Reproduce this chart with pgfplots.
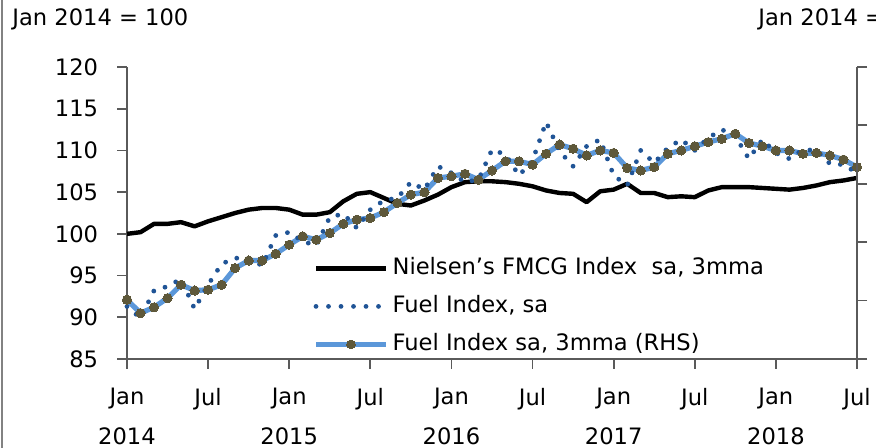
\documentclass[border=0pt]{standalone}
\usepackage{pgfplots}
\usepackage{pgfplotstable}
\pgfplotsset{compat=1.18}
\usepackage{fontspec}
\setmainfont{DejaVu Sans}
\definecolor{axgray}{RGB}{90,90,90}
\definecolor{fuelblue}{RGB}{91,151,217}
\definecolor{dotblue}{RGB}{32,84,150}
\definecolor{mkolive}{RGB}{94,88,58}
\definecolor{bordergray}{RGB}{130,130,130}

\pgfplotstableread{
m nielsen raw mma
0 100.0 91.3 92.1
1 100.2 89.9 90.5
2 101.2 93.2 91.2
3 101.2 93.7 92.3
4 101.4 94.6 93.9
5 100.9 91.0 93.2
6 101.5 93.9 93.3
7 102.0 96.4 93.9
8 102.5 97.1 95.9
9 102.9 97.0 96.8
10 103.1 96.2 96.8
11 103.1 99.8 97.6
12 102.9 100.2 98.7
13 102.3 99.1 99.7
14 102.3 98.6 99.3
15 102.6 102.0 100.1
16 103.9 102.4 101.2
17 104.8 100.7 101.7
18 105.0 102.9 101.9
19 104.3 104.0 102.6
20 103.6 104.3 103.7
21 103.4 106.2 104.7
22 104.0 105.3 105.0
23 104.7 108.1 106.7
24 105.6 107.3 106.9
25 106.2 106.2 107.2
26 106.3 106.5 106.5
27 106.3 110.1 107.6
28 106.2 109.5 108.7
29 106.0 107.0 108.7
30 105.7 108.8 108.3
31 105.2 113.4 109.6
32 104.9 109.9 110.7
33 104.8 108.1 110.2
34 103.8 110.5 109.4
35 105.1 111.3 110.0
36 105.3 107.0 109.7
37 106.0 105.8 107.9
38 104.9 110.0 107.6
39 104.9 108.5 108.0
40 104.4 110.3 109.6
41 104.5 111.3 110.0
42 104.4 110.0 110.5
43 105.2 111.5 111.0
44 105.6 112.5 111.4
45 105.6 111.7 112.0
46 105.6 109.0 110.9
47 105.5 111.3 110.5
48 105.4 109.7 110.0
49 105.3 109.0 110.0
50 105.5 110.1 109.6
51 105.8 110.0 109.7
52 106.2 108.4 109.4
53 106.4 108.3 108.9
54 106.7 107.3 108.0
}\datatable

\begin{document}
\fontsize{11.3}{13.5}\selectfont
\begin{tikzpicture}
\draw[bordergray, line width=1pt] (1pt,0) -- (1pt,224pt);
\node[anchor=base west, inner sep=0pt] at (6pt,211pt) {Jan 2014 = 100};
\node[anchor=base west, inner sep=0pt] at (379pt,211pt) {Jan 2014 = 100};
\begin{axis}[
  at={(63.5pt,44.5pt)}, anchor=south west,
  scale only axis, width=365pt, height=146pt,
  xmin=0, xmax=54, ymin=85, ymax=120,
  axis x line*=bottom, axis y line*=left,
  axis line style={-, draw=axgray, line width=0.9pt},
  major tick style={draw=axgray, line width=0.9pt},
  tick align=outside, major tick length=5pt,
  xtick={0,6,...,54},
  xticklabels={{Jan\\2014},Jul,{Jan\\2015},Jul,{Jan\\2016},Jul,{Jan\\2017},Jul,{Jan\\2018},Jul},
  xticklabel style={align=center, font=\fontsize{11.3}{20}\selectfont, yshift=-5.5pt},
  ytick={85,90,...,120},
  yticklabel style={xshift=-5.5pt},
  /pgf/number format/assume math mode=true,
  clip=false,
  legend cell align=left,
  legend style={draw=none, fill=none, at={(rel axis cs:0.2548,0.363)}, anchor=north west,
    inner xsep=0pt, inner ysep=0pt, row sep=4pt,
    nodes={inner sep=2pt, text height=8.5pt, text depth=2.5pt}},
  legend image code/.code={\draw[#1,mark repeat=2,mark phase=2] plot coordinates {(0pt,0pt) (17.5pt,0pt) (35pt,0pt)};},
]
\addlegendimage{black, line width=2.2pt}
\addlegendentry{Nielsen’s FMCG Index\ \ sa, 3mma}
\addlegendimage{dotblue, line width=2.4pt, line cap=round, dash pattern=on 0pt off 6.25pt}
\addlegendentry{Fuel Index, sa}
\addlegendimage{fuelblue, line width=2.6pt, mark=*, mark size=2.2pt, mark options={fill=mkolive, draw=mkolive, line width=0pt, solid}}
\addlegendentry{Fuel Index sa, 3mma (RHS)}

\addplot[forget plot, black, line width=2.2pt, line join=round] table[x=m, y=nielsen] {\datatable};
\addplot[forget plot, fuelblue, line width=2.6pt, line join=round, mark=*, mark size=2.3pt, mark options={fill=mkolive, draw=mkolive, line width=0pt}] table[x=m, y=mma] {\datatable};
\addplot[forget plot, dotblue, line width=2.4pt, line cap=round, line join=round, dash pattern=on 0pt off 6pt] table[x=m, y=raw] {\datatable};
\end{axis}
\begin{axis}[
  at={(63.5pt,44.5pt)}, anchor=south west,
  scale only axis, width=365pt, height=146pt,
  xmin=0, xmax=54, ymin=0, ymax=5,
  axis x line=none, axis y line*=right,
  axis line style={-, draw=axgray, line width=0.9pt},
  major tick style={draw=axgray, line width=0.9pt},
  tick align=outside, major tick length=5pt,
  ytick={0,1,...,5}, yticklabels={},
]
\end{axis}
\pgfresetboundingbox
\path[use as bounding box] (0,0) rectangle (438pt,224pt);
\end{tikzpicture}
\end{document}
